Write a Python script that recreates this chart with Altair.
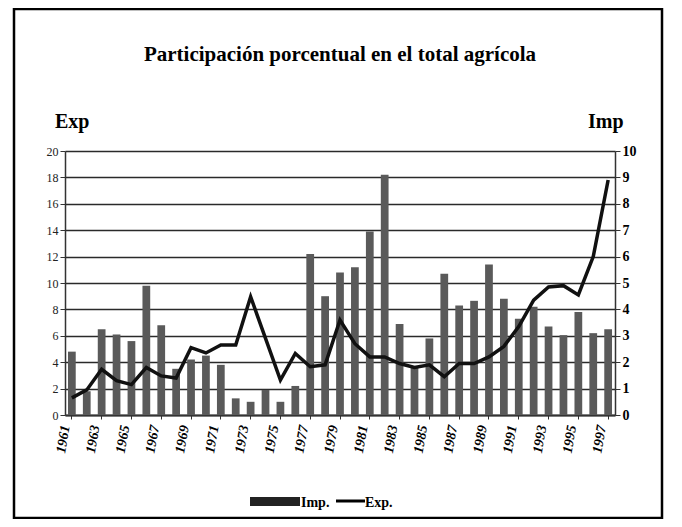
import altair as alt
import pandas as pd

years = list(range(1961, 1998))
imp_bars = [4.8, 1.8, 6.5, 6.1, 5.6, 9.8, 6.8, 3.5, 4.2, 4.5, 3.8, 1.26, 1.0, 1.9, 1.0, 2.2,
            12.2, 9.0, 10.8, 11.2, 13.9, 18.2, 6.9, 3.7, 5.8, 10.7, 8.3, 8.65, 11.4, 8.8,
            7.3, 8.2, 6.7, 6.05, 7.8, 6.2, 6.5]
exp_line = [0.65, 0.95, 1.73, 1.3, 1.15, 1.8, 1.48, 1.4, 2.55, 2.35, 2.65, 2.65, 4.48, 2.9,
            1.32, 2.33, 1.83, 1.9, 3.6, 2.7, 2.2, 2.2, 1.95, 1.8, 1.9, 1.45, 1.95, 1.95,
            2.2, 2.6, 3.35, 4.35, 4.85, 4.9, 4.55, 6.0, 8.9]
year_labels = list(range(1961, 1998, 2))
left_ticks = list(range(0, 21, 2))
right_ticks = list(range(0, 11))

df = pd.DataFrame({"year": years, "imp": imp_bars, "exp": exp_line})

SERIF = "Liberation Serif"
W, H = 550, 264

xenc = alt.X("year:O", title=None,
             scale=alt.Scale(paddingInner=0.48, paddingOuter=0.2),
             axis=alt.Axis(values=year_labels, labelAngle=-80, labelFont=SERIF,
                           labelFontSize=14, labelFontWeight="bold", labelFontStyle="italic",
                           labelColor="black", labelOffset=-6, labelPadding=6,
                           domainColor="#333", domainWidth=2, tickColor="#333",
                           tickSize=4, grid=False))

bars = alt.Chart(df).mark_bar(color="#5a5a5a").encode(
    x=xenc,
    y=alt.Y("imp:Q", title=None, scale=alt.Scale(domain=[0, 20], nice=False),
            axis=alt.Axis(orient="left", values=left_ticks, grid=True, gridColor="#2a2a2a",
                          gridWidth=1.5, labelFont=SERIF, labelFontSize=12,
                          labelColor="#222", domainColor="#333", domainWidth=1.5,
                          tickColor="#333", tickSize=5))
)

line = alt.Chart(df).mark_line(color="#111", strokeWidth=3.5).encode(
    x=xenc,
    y=alt.Y("exp:Q", title=None, scale=alt.Scale(domain=[0, 10], nice=False),
            axis=alt.Axis(orient="right", values=right_ticks, grid=False, labelFont=SERIF,
                          labelFontSize=14, labelFontWeight="bold", labelColor="black",
                          domainColor="#333", domainWidth=1.5, tickColor="#333", tickSize=5))
)

one = pd.DataFrame({"k": [0]})

def txt(s, x, y, size, align="center"):
    return alt.Chart(one).mark_text(text=s, font=SERIF, fontSize=size, fontWeight="bold",
                                    align=align, baseline="middle", color="black").encode(
        x=alt.value(x), y=alt.value(y))

title = txt("Participación porcentual en el total agrícola", 275, -96, 21)
exp_t = txt("Exp", -10, -29, 20, "left")
imp_t = txt("Imp", 523, -29, 20, "left")

frame = alt.Chart(one).mark_rect(fill=None, stroke="black", strokeWidth=2.5).encode(
    x=alt.value(-51), x2=alt.value(597), y=alt.value(-142), y2=alt.value(367))

leg_bar = alt.Chart(one).mark_rect(color="#222").encode(
    x=alt.value(185), x2=alt.value(235), y=alt.value(346), y2=alt.value(355))
leg_imp = txt("Imp.", 236, 352, 14, "left")
leg_line = alt.Chart(one).mark_rule(color="black", strokeWidth=3).encode(
    x=alt.value(271), x2=alt.value(300), y=alt.value(350))
leg_exp = txt("Exp.", 300, 352, 14, "left")

chart = alt.layer(bars, line, title, exp_t, imp_t, frame, leg_bar, leg_imp, leg_line, leg_exp).resolve_scale(
    y="independent"
).properties(
    width=W, height=H,
    autosize=alt.AutoSizeParams(type="none"),
    padding={"left": 57, "top": 143, "right": 59, "bottom": 104},
).configure_view(fill="#c8c8c8", stroke="#555", strokeWidth=1).configure(background="white")

chart.save("out.html", embed_options={"renderer": "svg", "actions": False})
